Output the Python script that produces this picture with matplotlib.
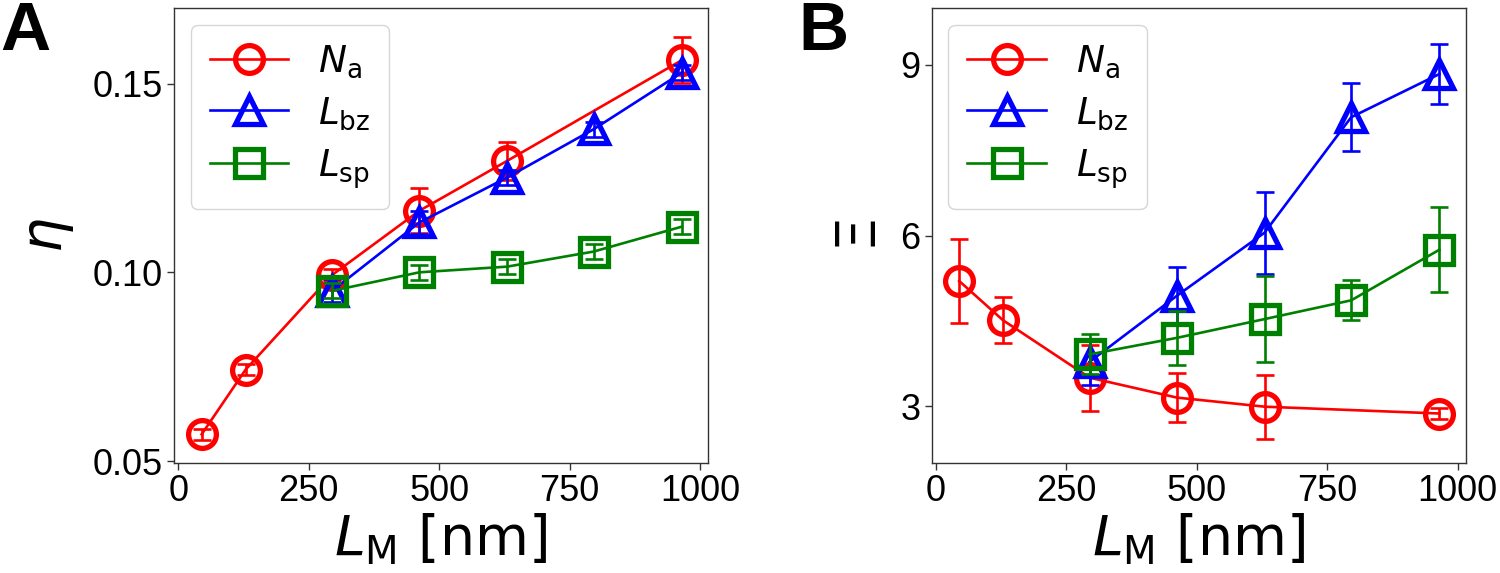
import numpy as np
import matplotlib
matplotlib.use("Agg")
import matplotlib.pyplot as plt

plt.rcParams['font.family'] = ['Liberation Sans', 'DejaVu Sans']
plt.rcParams['mathtext.fontset'] = 'dejavusans'

# x positions (L_M in nm)
x_na = [45, 129, 295, 462, 630, 965]
x_l = [295, 462, 630, 796, 965]

# panel A: eta
eta_na = [0.0571, 0.0742, 0.0993, 0.1163, 0.1295, 0.1562]
eta_na_err = [0.0015, 0.0015, 0.0015, 0.006, 0.005, 0.006]
eta_bz = [0.0951, 0.1132, 0.1251, 0.1379, 0.1529]
eta_bz_err = [0.003, 0.003, 0.002, 0.002, 0.002]
eta_sp = [0.0951, 0.1000, 0.1015, 0.1055, 0.1121]
eta_sp_err = [0.002, 0.002, 0.002, 0.002, 0.002]

# panel B: Xi
xi_na = [5.20, 4.51, 3.50, 3.15, 2.99, 2.87]
xi_na_err = [0.74, 0.40, 0.58, 0.43, 0.56, 0.10]
xi_bz = [3.78, 4.94, 6.05, 8.08, 8.84]
xi_bz_err = [0.40, 0.50, 0.72, 0.60, 0.52]
xi_sp = [3.91, 4.20, 4.53, 4.86, 5.75]
xi_sp_err = [0.35, 0.48, 0.76, 0.35, 0.75]

labels = [r'$N_\mathrm{a}$', r'$L_\mathrm{bz}$', r'$L_\mathrm{sp}$']
colors = ['red', 'blue', 'green']
markers = ['o', '^', 's']


def draw(ax, series):
    for (xs, ys, es), lab, c, m in zip(series, labels, colors, markers):
        ax.errorbar(xs, ys, yerr=es, fmt='none', ecolor=c, elinewidth=1.9,
                    capsize=6.5, capthick=1.9)
        ax.plot(xs, ys, color=c, lw=1.9, marker=m, ms=20, mew=3.8,
                mfc='none', mec=c, label=lab)
    ax.set_xlim(-8, 1015)
    ax.set_xticks([0, 250, 500, 750, 1000])
    ax.tick_params(labelsize=26, length=5, width=1, color='#333333', pad=3)
    for s in ax.spines.values():
        s.set_color('#333333')
        s.set_linewidth(1)
    ax.set_xlabel(r'$L_\mathrm{M}$ [nm]', fontsize=40, family='DejaVu Sans',
                  labelpad=2)
    ax.legend(loc='upper left', fontsize=27, handlelength=2.1,
              handletextpad=0.8, labelspacing=0.4, borderpad=0.5,
              borderaxespad=0.45)


fig = plt.figure(figsize=(15, 5.73), dpi=100)
axA = fig.add_axes([0.116, 0.192, 0.356, 0.794])
axB = fig.add_axes([0.621, 0.192, 0.356, 0.794])

draw(axA, [(x_na, eta_na, eta_na_err), (x_l, eta_bz, eta_bz_err),
           (x_l, eta_sp, eta_sp_err)])
axA.set_ylim(0.0495, 0.17)
axA.set_yticks([0.05, 0.10, 0.15])
axA.set_yticklabels(['0.05', '0.10', '0.15'])
axA.set_ylabel(r'$\eta$', fontsize=40, labelpad=12)

draw(axB, [(x_na, xi_na, xi_na_err), (x_l, xi_bz, xi_bz_err),
           (x_l, xi_sp, xi_sp_err)])
axB.set_ylim(2.0, 10.0)
axB.set_yticks([3, 6, 9])
axB.set_ylabel(r'$\Xi$', fontsize=40, labelpad=9)

fig.text(0.0, 1.0, 'A', fontsize=50, fontweight='bold', va='top', ha='left')
fig.text(0.532, 1.0, 'B', fontsize=50, fontweight='bold', va='top', ha='left')

fig.savefig('out.png', dpi=100)
